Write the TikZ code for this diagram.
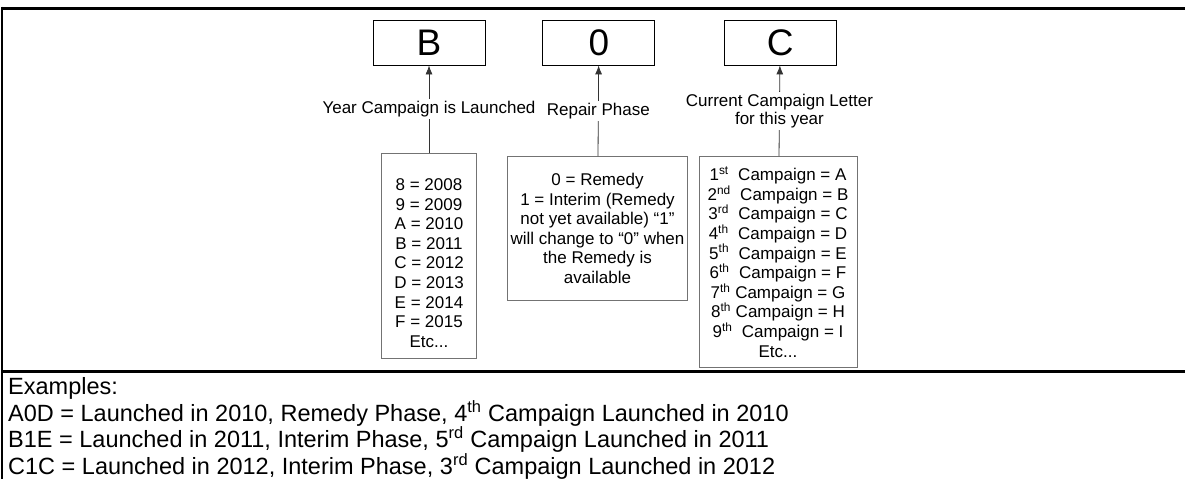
\documentclass[tikz,border=0pt]{standalone}
\usepackage{fontspec}
\setmainfont{Liberation Sans}
\usetikzlibrary{positioning, arrows.meta}

\begin{document}
\begin{tikzpicture}[
    x=1pt, y=-1pt,
    >={Latex[length=9pt, width=7pt]},
    every edge/.style={draw, line width=0.8pt, draw=black!80},
    frame/.style={line width=3pt},
    letterbox/.style={draw, line width=0.8pt, minimum width=112pt, minimum height=45pt, inner sep=0pt, font=\fontsize{37}{40}\selectfont},
    keybox/.style={draw=black!55, line width=1pt, align=center, anchor=north, inner sep=0pt, font=\fontsize{17}{19.6}\selectfont},
    fieldlabel/.style={midway, align=center, fill=white, inner sep=2pt, font=\fontsize{17}{18}\selectfont}]

    \useasboundingbox (0,0) rectangle (1185,479);

    %%% Outer frame and divider
    \draw[frame] (2,8) -- (1185,8);
    \draw[line width=2.5pt] (2,6.5) -- (2,479);
    \draw[frame] (2,371) -- (1185,371);

    %%% Code letters
    \node at (429,42.5)[letterbox] (year) {B};
    \node[letterbox, right=57pt of year] (phase) {0};
    \node[letterbox, right=68.5pt of phase] (letter) {C};

    %%% Keys for each letter
    \node at (429,153)[keybox, minimum width=95pt, minimum height=205pt] (years) {\rule{0pt}{26pt}8 = 2008\\ 9 = 2009\\ A = 2010\\ B = 2011\\ C = 2012\\ D = 2013\\ E = 2014\\ F = 2015\\ Etc...};
    \node at (597.5,156)[keybox, minimum width=180pt, minimum height=144pt] (remedy) {0 = Remedy\\ 1 = Interim (Remedy\\ not yet available) “1”\\ will change to “0” when\\ the Remedy is\\ available};
    \node at (778,156)[keybox, minimum width=158pt, minimum height=211pt] (campaign) {1\textsuperscript{st}\ \ Campaign = A\\ 2\textsuperscript{nd}\ \ Campaign = B\\ 3\textsuperscript{rd}\ \ Campaign = C\\ 4\textsuperscript{th}\ \ Campaign = D\\ 5\textsuperscript{th}\ \ Campaign = E\\ 6\textsuperscript{th}\ \ Campaign = F\\ 7\textsuperscript{th} Campaign = G\\ 8\textsuperscript{th} Campaign = H\\ 9\textsuperscript{th}\ \ Campaign = I\\ Etc...};

    %%% Relations between keys and letters
    \path (years) edge [->] node[fieldlabel] {Year Campaign is Launched} (year);
    \path (remedy) edge [->] node[fieldlabel] {Repair Phase} (phase);
    \path (campaign) edge [->] node[fieldlabel] {Current Campaign Letter\\ for this year} (letter);

    %%% Examples
    \node at (8,377)[anchor=north west, align=left, inner sep=0pt, font=\fontsize{23.5}{24.5}\selectfont] (examples) {Examples:\\ A0D = Launched in 2010, Remedy Phase, 4\textsuperscript{th} Campaign Launched in 2010\\ B1E = Launched in 2011, Interim Phase, 5\textsuperscript{rd} Campaign Launched in 2011\\ C1C = Launched in 2012, Interim Phase, 3\textsuperscript{rd} Campaign Launched in 2012};

\end{tikzpicture}
\end{document}
